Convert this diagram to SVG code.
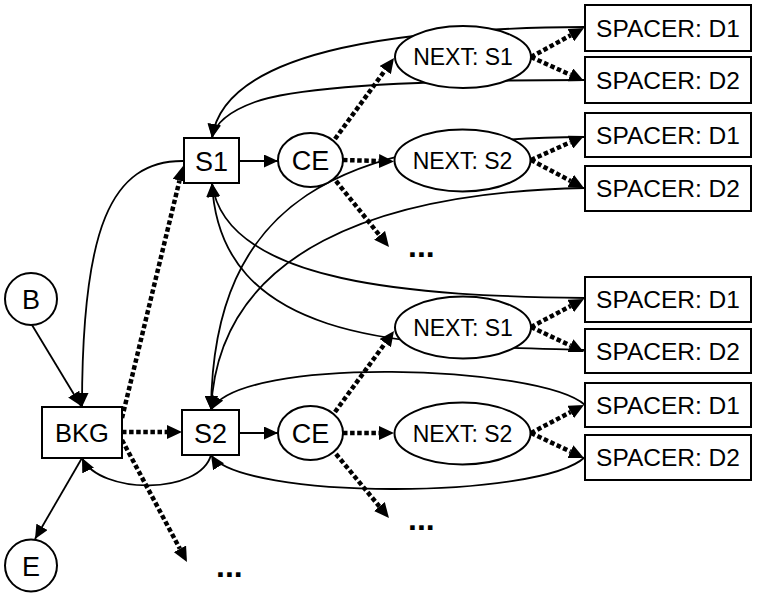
<svg xmlns="http://www.w3.org/2000/svg" width="757" height="598" viewBox="0 0 757 598">
<style>
.n{fill:#fff;stroke:#000;stroke-width:2}
.t{font-family:"Liberation Sans",Arial,sans-serif;fill:#000;text-anchor:middle}
.s{fill:none;stroke:#000;stroke-width:1.8;marker-end:url(#as)}
.d{fill:none;stroke:#000;stroke-width:4.5;stroke-dasharray:4.5 2.6;marker-end:url(#ad)}
.dots{font-family:"Liberation Sans",Arial,sans-serif;font-weight:bold;font-size:32px;fill:#000}
</style>
<defs>
<marker id="as" markerUnits="userSpaceOnUse" markerWidth="15" markerHeight="13" refX="14" refY="6.5" orient="auto" viewBox="0 0 15 13"><path d="M0,0 L14,6.5 L0,13 z" fill="#000"/></marker>
<marker id="ad" markerUnits="userSpaceOnUse" markerWidth="16" markerHeight="14" refX="0" refY="7" orient="auto" viewBox="0 0 16 14"><path d="M0,0 L15,7 L0,14 z" fill="#000"/></marker>
</defs>
<g id="connectors">
<path class="s" d="M585,27 C420,28 225,45 212,138"/>
<path class="s" d="M585,80 C430,80 300,86 255,102 C230,111 215,122 212,138"/>
<path class="s" d="M585,137 C340,138 213,200 211,410"/>
<path class="s" d="M585,188 C380,192 218,250 211,410"/>
<path class="s" d="M585,298 C420,296 225,285 212,183"/>
<path class="s" d="M585,350 C420,345 220,350 212,183"/>
<path class="s" d="M585,405 C540,365 240,355 211,410"/>
<path class="s" d="M585,457 C540,500 240,500 211,455"/>
<path class="s" d="M211,455 C200,495 100,495 82,458"/>
<path class="s" d="M184,161 C110,160 82,230 82,407"/>
<path class="s" d="M239,161 L278,161"/>
<path class="s" d="M239,433 L278,433"/>
<path class="s" d="M32,325 L81,406"/>
<path class="s" d="M82,458 L35,539"/>
<path class="d" d="M122,418 L179.5,180.6"/>
<path class="d" d="M122,432 L167,432"/>
<path class="d" d="M122,440 L179.9,548.8"/>
<path class="d" d="M335,139 L385.2,70.1"/>
<path class="d" d="M343,160 L379,161"/>
<path class="d" d="M336,181 L379.6,235.3"/>
<path class="d" d="M531,57 L570.8,35.2"/>
<path class="d" d="M531,57 L570.3,74.8"/>
<path class="d" d="M531,160 L570.3,142.2"/>
<path class="d" d="M531,160 L570.7,181"/>
<path class="d" d="M531,327 L570.7,306"/>
<path class="d" d="M531,327 L570.4,345.6"/>
<path class="d" d="M531,433 L570.7,412"/>
<path class="d" d="M531,433 L570.4,451.6"/>
<path class="d" d="M335,412 L385.2,343.1"/>
<path class="d" d="M343,433 L379,433"/>
<path class="d" d="M336,454 L379.4,506.5"/>
</g>
<g id="B"><circle class="n" cx="31" cy="299" r="26"/><text class="t" x="31" y="309" font-size="27">B</text></g>
<g id="E"><circle class="n" cx="31" cy="565.5" r="26"/><text class="t" x="31" y="575.5" font-size="27">E</text></g>
<g id="BKG"><rect class="n" x="42" y="407" width="80" height="51"/><text class="t" x="82" y="442" font-size="25.5">BKG</text></g>
<g id="S1"><rect class="n" x="184" y="138" width="55" height="45"/><text class="t" x="211.5" y="170.5" font-size="27">S1</text></g>
<g id="S2"><rect class="n" x="182" y="410" width="57" height="45"/><text class="t" x="210.5" y="442.5" font-size="27">S2</text></g>
<g id="CE1"><ellipse class="n" cx="310.5" cy="160" rx="32.5" ry="27"/><text class="t" x="310.5" y="170" font-size="27">CE</text></g>
<g id="CE2"><ellipse class="n" cx="310.5" cy="433" rx="32.5" ry="27"/><text class="t" x="310.5" y="443" font-size="27">CE</text></g>
<g id="NEXT_S1_a"><ellipse class="n" cx="463" cy="57" rx="68" ry="31"/><text class="t" x="463" y="65" font-size="23">NEXT: S1</text></g>
<g id="NEXT_S2_a"><ellipse class="n" cx="462.5" cy="160.5" rx="68" ry="31"/><text class="t" x="462.5" y="168.5" font-size="23">NEXT: S2</text></g>
<g id="NEXT_S1_b"><ellipse class="n" cx="463" cy="327.5" rx="68" ry="31"/><text class="t" x="463" y="335.5" font-size="23">NEXT: S1</text></g>
<g id="NEXT_S2_b"><ellipse class="n" cx="462.5" cy="433.5" rx="68" ry="31"/><text class="t" x="462.5" y="441.5" font-size="23">NEXT: S2</text></g>
<g id="SP1"><rect class="n" x="585" y="5" width="166" height="46"/><text class="t" x="668" y="37" font-size="24.5">SPACER: D1</text></g>
<g id="SP2"><rect class="n" x="585" y="57" width="166" height="46"/><text class="t" x="668" y="89" font-size="24.5">SPACER: D2</text></g>
<g id="SP3"><rect class="n" x="585" y="113" width="166" height="44"/><text class="t" x="668" y="144" font-size="24.5">SPACER: D1</text></g>
<g id="SP4"><rect class="n" x="585" y="166" width="166" height="45"/><text class="t" x="668" y="197" font-size="24.5">SPACER: D2</text></g>
<g id="SP5"><rect class="n" x="585" y="277" width="166" height="45"/><text class="t" x="668" y="308" font-size="24.5">SPACER: D1</text></g>
<g id="SP6"><rect class="n" x="585" y="329" width="166" height="44"/><text class="t" x="668" y="360" font-size="24.5">SPACER: D2</text></g>
<g id="SP7"><rect class="n" x="585" y="383" width="166" height="44"/><text class="t" x="668" y="414" font-size="24.5">SPACER: D1</text></g>
<g id="SP8"><rect class="n" x="585" y="435" width="166" height="45"/><text class="t" x="668" y="466" font-size="24.5">SPACER: D2</text></g>
<g id="more1"><text class="dots" x="408" y="257">...</text></g>
<g id="more2"><text class="dots" x="408" y="530">...</text></g>
<g id="more3"><text class="dots" x="216" y="577">...</text></g>
</svg>
